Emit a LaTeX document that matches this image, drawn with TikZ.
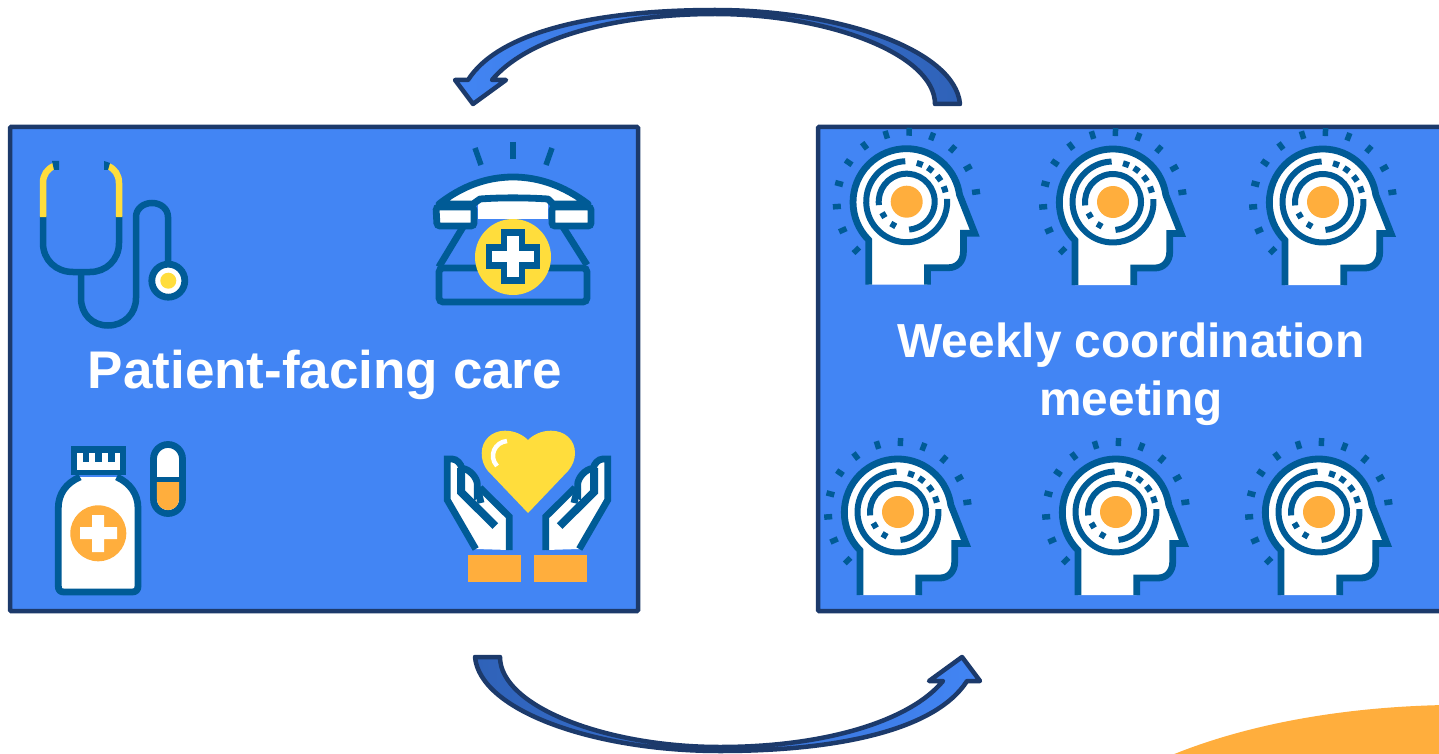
\documentclass[tikz,border=0pt]{standalone}
\usepackage{fontspec}
\setmainfont{Liberation Sans}
\definecolor{panelblue}{HTML}{4285F4}
\definecolor{paneledge}{HTML}{1C3A6B}
\definecolor{iconblue}{HTML}{005B96}
\definecolor{iconorange}{HTML}{FFAE3D}
\definecolor{iconyellow}{HTML}{FFDD3C}
\definecolor{tailblue}{HTML}{2F62B8}
\tikzset{
  panel/.style={draw=paneledge,fill=panelblue,line width=4.5pt,rounded corners=1pt,minimum height=484pt,minimum width=628pt},
  paneltext/.style={text=white,align=center,inner sep=0pt},
  iconline/.style={draw=iconblue,line width=6.8pt,line join=miter},
  thinline/.style={draw=iconblue,line width=6pt},
  ray/.style={draw=iconblue,line width=5.5pt},
  curved/.style={draw=paneledge,line width=4.5pt,line join=round},
}
\newcommand{\headicon}[1]{%
\begin{scope}[shift={#1}]
  \path[iconline,fill=white] (-38,83) -- (-38,38.3) arc[start angle=135,end angle=352,radius=53.5]
     -- (68,31.5) -- (56.7,31.5) -- (56.7,50) .. controls (56.7,60) and (50,66) .. (42,66) -- (20.7,66) -- (20.7,83);
  \draw[thinline] (268:40.5) arc[start angle=268,end angle=-4,radius=40.5];
  \draw[thinline] (173:28) arc[start angle=173,end angle=445,radius=28];
  \foreach \a in {-71,-54,-36,-18}{\draw[thinline] (\a-4.5:40) arc[start angle=\a-4.5,end angle=\a+4.5,radius=40];}
  \foreach \a in {150,120}{\draw[thinline] (\a-6:27) arc[start angle=\a-6,end angle=\a+6,radius=27];}
  \fill[iconorange] (0,0) circle[radius=16];
  \foreach \a in {88,68.7,49,29,8,107,127,146,165,184,204,224}{\draw[ray] (-\a:66) -- (-\a:74);}
\end{scope}}
\newcommand{\handicon}{%
  \path[iconline,fill=white] (475.7,549) -- (447.3,500) -- (447.3,459) -- (452,459)
    .. controls (457,459) and (461,464) .. (461.7,468.3) .. controls (470,469) and (477,478) .. (477.3,484) -- (477.3,494) -- (482.3,490)
    -- (509.3,516.7) -- (509.3,550);
  \draw[iconblue,line width=8pt] (461,468) -- (461,492) -- (495.3,526);
  \draw[iconblue,line width=7pt] (477.3,488) -- (481,503);
}
\newcommand{\curvedarrow}{
  (960,104) .. controls (955,50) and (840,10) .. (715,10)
  .. controls (600,10) and (500,30) .. (468,80)
  -- (455,80) -- (473,104) -- (506,80) -- (492,80)
  .. controls (525,40) and (610,14) .. (715,14)
  .. controls (830,14) and (935,55) .. (935,104) -- cycle}
\begin{document}
\begin{tikzpicture}[x=1pt,y=-1pt]
\useasboundingbox (0,0) rectangle (1439,754);
\fill[white] (0,0) rectangle (1439,754);
\fill[iconorange] (1160,760) .. controls (1240,725) and (1340,707) .. (1445,705) -- (1445,760) -- cycle;

\node[panel] (care) at (324,369) {};
\node[panel] (meeting) at (1132,369) {};
\node[paneltext,font=\fontsize{53}{58}\selectfont\bfseries] (caretext) at (325,374.5) {Patient-facing care};
\node[paneltext,font=\fontsize{47.8}{58}\selectfont\bfseries] (meetingtext) at (1131,374) {Weekly coordination\\meeting};

\shade[curved,left color=panelblue,right color=tailblue] \curvedarrow;
\begin{scope}[shift={(1435,761)},xscale=-1,yscale=-1]
\shade[curved,left color=tailblue,right color=panelblue] \curvedarrow;
\end{scope}

% stethoscope
\draw[iconblue,line width=6.5pt] (43,216) -- (43,243) .. controls (43,260) and (56,272) .. (73,272) -- (90,272) .. controls (106,272) and (119,260) .. (119,243) -- (119,216);
\draw[iconblue,line width=6.5pt] (81,272) -- (81,298) .. controls (81,314) and (92,325.5) .. (108,325.5) .. controls (124,325.5) and (136,314) .. (136,298) -- (136,217) .. controls (136,209) and (143,203) .. (152,203) .. controls (161,203) and (168,209) .. (168,217) -- (168,263);
\draw[iconyellow,line width=6.5pt] (43,217) -- (43,183) .. controls (43,175) and (47,169) .. (54,166);
\draw[iconyellow,line width=6.5pt] (119,217) -- (119,183) .. controls (119,175) and (115,169) .. (108,166);
\fill[iconblue] (52,161) -- (59,161) -- (59,170) -- (54,170) -- cycle;
\fill[iconblue] (104,161) -- (110,163) -- (108,170) -- (104,170) -- cycle;
\draw[iconline,fill=white] (168.3,280.7) circle[radius=16.5];
\fill[iconyellow] (168.3,280.7) circle[radius=8];

% telephone
\draw[ray] (475,148) -- (481,165);
\draw[ray] (513,142) -- (513,159);
\draw[ray] (552,148) -- (546,165);
\draw[iconline,line join=round] (463,227) -- (440,265) -- (439,267);
\draw[iconline,line join=round] (563,227) -- (587,265);
\draw[iconline,rounded corners=4pt] (439,268) rectangle (587,302);
\fill[white] (478,199) rectangle (548,219);
\path[iconline,fill=white,line join=round] (439,204) .. controls (462,186) and (487,177) .. (513,177) .. controls (539,177) and (564,186) .. (588,204)
   -- (553,204) -- (548,199) .. controls (525,197.5) and (500,197.5) .. (480,199) -- (473,204) -- cycle;
\path[iconline,fill=white,rounded corners=3pt] (436,207) -- (474,207) -- (474,226) -- (437,226) -- cycle;
\path[iconline,fill=white,rounded corners=3pt] (552,207) -- (591,207) -- (591,226) -- (552,226) -- cycle;
\fill[iconyellow] (513,257) circle[radius=38];
\path[iconline,fill=white] (504,232.5) -- (522,232.5) -- (522,247.5) -- (537,247.5) -- (537,265.5) -- (522,265.5) -- (522,280.5) -- (504,280.5) -- (504,265.5) -- (489,265.5) -- (489,247.5) -- (504,247.5) -- cycle;

% medicine
\fill[iconblue] (70.7,446) rectangle (126,475);
\fill[white] (77,452.7) rectangle (120,470);
\foreach \x in {82.7,95,108}{\fill[iconblue] (\x,451) rectangle (\x+6.5,461.7);}
\path[iconline,fill=white,line join=round] (80,477) .. controls (66,483) and (58.3,494) .. (58.3,508) -- (58.3,586) .. controls (58.3,590) and (60,592) .. (64,592) -- (132,592) .. controls (136,592) and (138,590) .. (138,586) -- (138,508) .. controls (138,494) and (130,483) .. (116.7,477);
\fill[iconorange] (98.3,533.3) circle[radius=28];
\fill[white] (80,527) rectangle (117,539) (92,515) rectangle (104,552);
\draw[iconline,fill=white] (153.5,459) arc[start angle=180,end angle=360,radius=14.5] -- (182.5,499) arc[start angle=0,end angle=180,radius=14.5] -- cycle;
\fill[iconorange] (156.9,482) rectangle (179.1,499) (156.9,499) arc[start angle=180,end angle=0,radius=11.1] -- cycle;
\fill[iconblue] (156,477) rectangle (180,482);

% heart and hands
\fill[iconyellow] (528,513) -- (488,471) .. controls (483,465) and (481.7,459) .. (481.7,453) .. controls (481.7,440) and (492,430.7) .. (505,430.7) .. controls (515,430.7) and (523,435) .. (528,440)
   .. controls (533,435) and (541,430.7) .. (551,430.7) .. controls (565,430.7) and (575,440) .. (575,453) .. controls (575,459) and (573,465) .. (568,471) -- cycle;
\draw[white,line width=4.5pt] (507,441) .. controls (495,442) and (488,456) .. (497,466);
\handicon
\begin{scope}[shift={(1055,0)},xscale=-1]
\handicon
\end{scope}
\fill[iconorange] (468,555) rectangle (521,582);
\fill[iconorange] (534,555) rectangle (587,582);

% heads
\headicon{(906.7,201.7)}
\headicon{(1113,202)}
\headicon{(1323,202)}
\headicon{(898,512)}
\headicon{(1116,512)}
\headicon{(1319,512)}
\end{tikzpicture}
\end{document}
